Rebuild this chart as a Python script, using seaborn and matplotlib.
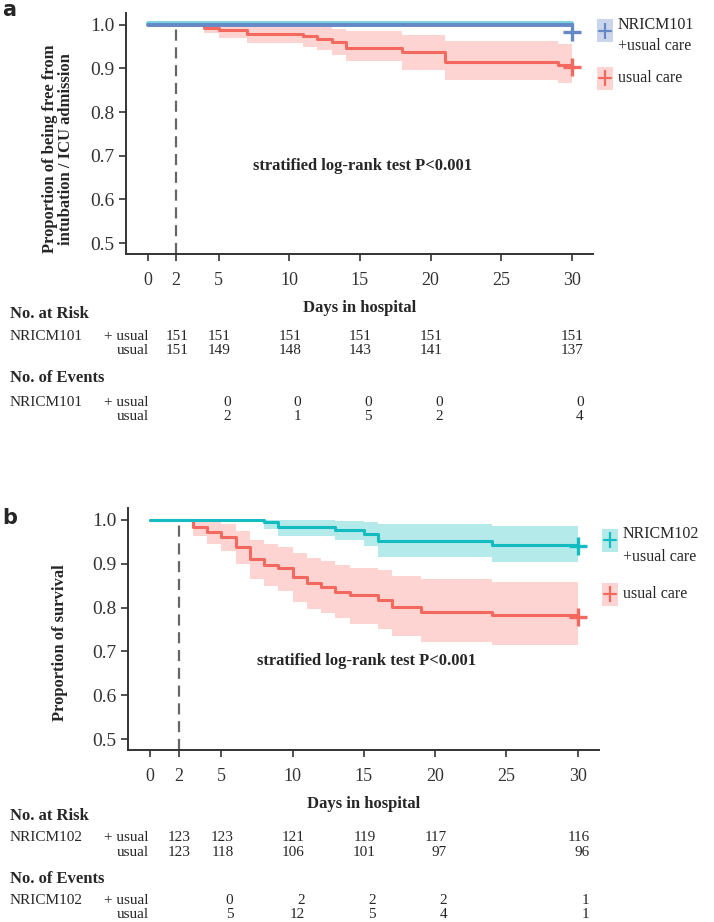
import numpy as np
import pandas as pd
import matplotlib.pyplot as plt
import matplotlib.patheffects as pe
import matplotlib.transforms as mtransforms
from matplotlib.lines import Line2D
from matplotlib.patches import Rectangle
import seaborn as sns

# ---- panel a: free from intubation / ICU admission ----
a_drug_days = [0, 30]
a_drug_surv = [1.0, 1.0]
a_drug_censor = 0.984
a_usual_days = [0, 4, 5, 7, 11, 12, 13, 14, 18, 21, 29, 30]
a_usual_surv = [1.0, 0.993, 0.987, 0.980, 0.974, 0.967, 0.961, 0.947, 0.937, 0.914, 0.907, 0.907]
a_usual_lo = [1.0, 0.981, 0.969, 0.958, 0.950, 0.943, 0.931, 0.916, 0.897, 0.874, 0.866, 0.866]
a_usual_hi = [1.0, 1.0, 1.0, 0.999, 0.997, 0.994, 0.991, 0.985, 0.977, 0.962, 0.956, 0.956]
a_usual_censor = 0.904

# ---- panel b: survival ----
b_drug_days = [0, 8, 9, 13, 15, 16, 24, 30]
b_drug_surv = [1.0, 0.994, 0.984, 0.976, 0.968, 0.951, 0.943, 0.943]
b_drug_lo = [1.0, 0.978, 0.964, 0.955, 0.940, 0.915, 0.904, 0.904]
b_drug_hi = [1.0, 1.0, 1.0, 0.998, 0.995, 0.991, 0.987, 0.987]
b_drug_censor = 0.940
b_usual_days = [0, 3, 4, 5, 6, 7, 8, 9, 10, 11, 12, 13, 14, 16, 17, 19, 24, 30]
b_usual_surv = [1.0, 0.984, 0.972, 0.960, 0.938, 0.911, 0.896, 0.889, 0.870, 0.855, 0.847,
                0.835, 0.828, 0.817, 0.801, 0.790, 0.782, 0.782]
b_usual_lo = [1.0, 0.962, 0.945, 0.928, 0.900, 0.865, 0.848, 0.838, 0.812, 0.797, 0.788,
              0.775, 0.762, 0.752, 0.735, 0.722, 0.715, 0.715]
b_usual_hi = [1.0, 1.0, 0.998, 0.990, 0.975, 0.955, 0.945, 0.938, 0.925, 0.912, 0.905,
              0.897, 0.890, 0.885, 0.873, 0.866, 0.858, 0.858]
b_usual_censor = 0.779

# ---- risk tables ----
risk_days = [2, 5, 10, 15, 20, 30]
event_days = [5, 10, 15, 20, 30]
a_risk_drug = [151, 151, 151, 151, 151, 151]
a_risk_usual = [151, 149, 148, 143, 141, 137]
a_events_drug = [0, 0, 0, 0, 0]
a_events_usual = [2, 1, 5, 2, 4]
b_risk_drug = [123, 123, 121, 119, 117, 116]
b_risk_usual = [123, 118, 106, 101, 97, 96]
b_events_drug = [0, 2, 2, 2, 1]
b_events_usual = [5, 12, 5, 4, 1]

xticks = [0, 2, 5, 10, 15, 20, 25, 30]
yticks = [0.5, 0.6, 0.7, 0.8, 0.9, 1.0]

BLUE, BLUE_L = "#6588c6", "#cad5ec"
RED, RED_L = "#f4695f", "#fdd4d1"
CYAN, CYAN_L = "#12bcc0", "#b4eaea"

sns.set_style("ticks")
plt.rcParams['font.family'] = ['Liberation Serif', 'DejaVu Serif']
plt.rcParams['axes.edgecolor'] = '#333333'
plt.rcParams['xtick.color'] = '#333333'
plt.rcParams['ytick.color'] = '#333333'

W, H = 714, 922
fig = plt.figure(figsize=(W / 100, H / 100), dpi=100)


def fx(px):
    return px / W


def fy(py):
    return 1 - py / H


def legend_block(curves, labels, box_x, line1_y, line2_dy, entry2_dy):
    # legend drawn by hand so the box / text stacking follows the original
    centers = [line1_y + 6, line1_y + entry2_dy]
    for c, cy in zip(curves, centers):
        fig.add_artist(Rectangle((fx(box_x), fy(cy + 11.5)), 16 / W, 23 / H,
                                 transform=fig.transFigure, facecolor=c['light'], lw=0))
        fig.add_artist(Line2D([fx(box_x + 2), fx(box_x + 14)], [fy(cy), fy(cy)],
                              transform=fig.transFigure, color=c['color'], lw=1.6))
        fig.add_artist(Line2D([fx(box_x + 8)], [fy(cy)], transform=fig.transFigure,
                              color=c['color'], marker='|', ms=11, mew=1.6))
    tx = fx(box_x + 21)
    first, second = labels[0].split('\n')
    fig.text(tx, fy(line1_y), first, fontsize=11.5, va='center')
    fig.text(tx, fy(line1_y + line2_dy), second, fontsize=11.5, va='center')
    fig.text(tx, fy(line1_y + entry2_dy), labels[1], fontsize=11.5, va='center')


def km_panel(box, curves, ylabel, ylab_y, letter, letter_top):
    ax = fig.add_axes(box)
    for c in curves:
        if c.get('lo') is not None:
            ax.fill_between(c['days'], c['lo'], c['hi'], step='post', color=c['light'], lw=0, zorder=1)
    ax.axvline(2, ymax=(1.0 - 0.475) / (1.027 - 0.475), color='#666666', lw=1.6,
               linestyle=(0, (5, 3)), zorder=2)
    for c in curves:
        sns.lineplot(x=c['days'], y=c['surv'], ax=ax, color=c['color'], lw=c['lw'],
                     drawstyle='steps-post', estimator=None, zorder=c['z'],
                     path_effects=c.get('pe'))
        ax.plot([30], [c['censor']], marker='+', ms=13, mew=2.4, color=c['color'], zorder=c['z'] + 1)
    ax.set_xlim(-1.55, 31.5)
    ax.set_ylim(0.475, 1.027)
    ax.set_xticks(xticks)
    ax.set_yticks(yticks)
    ax.set_yticklabels([f"{v:.1f}" for v in yticks])
    ax.tick_params(axis='both', length=5, width=1.2)
    ax.tick_params(axis='x', pad=8, labelsize=13)
    ax.tick_params(axis='y', pad=3.5, labelsize=14)
    for s in ['left', 'bottom']:
        ax.spines[s].set_linewidth(1.4)
    sns.despine(ax=ax)
    ax.set_xlabel('Days in hospital', fontsize=12, fontweight='bold')
    ax.xaxis.set_label_coords(0.5, -0.192)
    ax.set_ylabel(ylabel, fontsize=12, fontweight='bold', va='center', linespacing=1.0)
    ax.yaxis.set_label_coords(-0.145, ylab_y)
    ax.text(15.2, 0.677, 'stratified log-rank test P<0.001', ha='center', va='center',
            fontsize=12, fontweight='bold')
    fig.text(fx(2), fy(letter_top), letter, fontsize=15, fontweight='bold',
             family='DejaVu Sans', ha='left', va='top')
    return ax


def risk_table(ax, name, rows_y, risk_drug, risk_usual, ev_drug, ev_usual):
    tr = mtransforms.blended_transform_factory(ax.transData, fig.transFigure)
    fs = 11
    fig.text(fx(10), fy(rows_y[0]), 'No. at Risk', fontsize=12, fontweight='bold', va='center')
    fig.text(fx(10), fy(rows_y[3]), 'No. of Events', fontsize=12, fontweight='bold', va='center')
    for r in (1, 4):
        fig.text(fx(10), fy(rows_y[r]), name, fontsize=fs, va='center')
        fig.text(fx(149), fy(rows_y[r]), '+ usual', fontsize=fs, va='center', ha='right')
    for r in (2, 5):
        fig.text(fx(149), fy(rows_y[r]), 'usual', fontsize=fs, va='center', ha='right')
    for d, v1, v2 in zip(risk_days, risk_drug, risk_usual):
        ax.text(d + 0.85, fy(rows_y[1]), str(v1), transform=tr, ha='right', va='center', fontsize=fs)
        ax.text(d + 0.85, fy(rows_y[2]), str(v2), transform=tr, ha='right', va='center', fontsize=fs)
    for d, v1, v2 in zip(event_days, ev_drug, ev_usual):
        ax.text(d + 0.85, fy(rows_y[4]), str(v1), transform=tr, ha='right', va='center', fontsize=fs)
        ax.text(d + 0.85, fy(rows_y[5]), str(v2), transform=tr, ha='right', va='center', fontsize=fs)


shadow = [pe.SimpleLineShadow(offset=(0, 1.1), shadow_color='#78d3e0', alpha=1.0, rho=1.0),
          pe.Normal()]

curves_a = [dict(days=a_drug_days, surv=a_drug_surv, lo=None, hi=None, color=BLUE, light=BLUE_L,
                 lw=2.8, censor=a_drug_censor, pe=shadow, z=5),
            dict(days=a_usual_days, surv=a_usual_surv, lo=a_usual_lo, hi=a_usual_hi, color=RED,
                 light=RED_L, lw=2.2, censor=a_usual_censor, z=3)]
ax_a = km_panel([fx(126), fy(254), 467 / W, 241 / H], curves_a,
                'Proportion of being free from\nintubation / ICU admission', 0.436, 'a', 0)
legend_block(curves_a, ['NRICM101\n+usual care', 'usual care'], 597, 25, 21, 53)
risk_table(ax_a, 'NRICM101', [314, 336, 350, 378, 402, 417],
           a_risk_drug, a_risk_usual, a_events_drug, a_events_usual)

curves_b = [dict(days=b_drug_days, surv=b_drug_surv, lo=b_drug_lo, hi=b_drug_hi, color=CYAN,
                 light=CYAN_L, lw=2.2, censor=b_drug_censor, z=5),
            dict(days=b_usual_days, surv=b_usual_surv, lo=b_usual_lo, hi=b_usual_hi, color=RED,
                 light=RED_L, lw=2.2, censor=b_usual_censor, z=3)]
ax_b = km_panel([fx(128), fy(750), 471 / W, 242 / H], curves_b,
                'Proportion of survival', 0.445, 'b', 508)
legend_block(curves_b, ['NRICM102\n+usual care', 'usual care'], 602, 534, 23, 60)
risk_table(ax_b, 'NRICM102', [816, 837, 852, 879, 900, 914],
           b_risk_drug, b_risk_usual, b_events_drug, b_events_usual)

fig.savefig('out.png', dpi=100)
